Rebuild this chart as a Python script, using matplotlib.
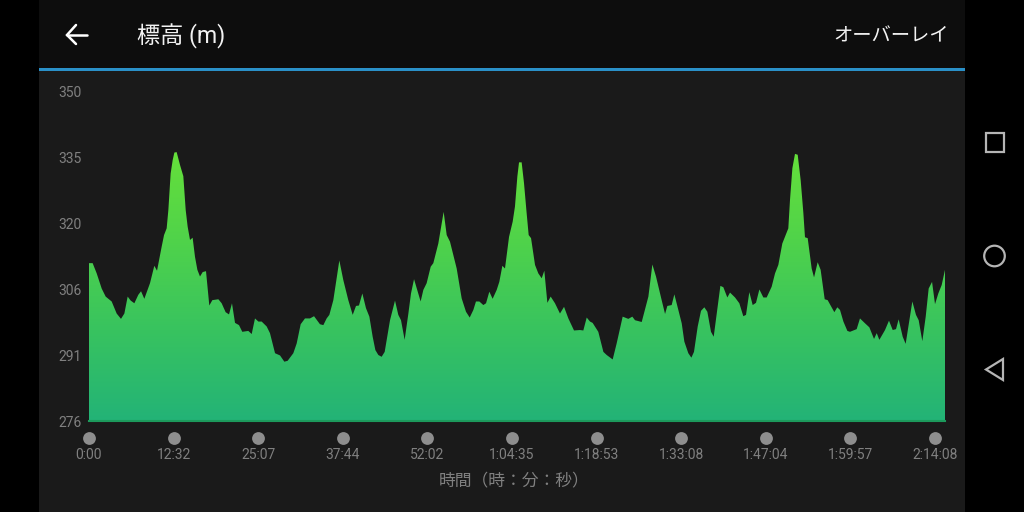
import numpy as np
import matplotlib
matplotlib.use("Agg")
import matplotlib.pyplot as plt
from matplotlib.colors import LinearSegmentedColormap
from matplotlib.patches import Rectangle, Circle, Polygon
from matplotlib.transforms import ScaledTranslation

plt.rcParams['font.family'] = ['Roboto', 'Noto Sans CJK JP', 'DejaVu Sans']

# position along the track, 1.0 = one labelled tick interval
track_pos = [
    0.000, 0.043, 0.091, 0.150, 0.197, 0.268, 0.327, 0.378, 0.418, 0.457, 0.493, 0.536, 0.583, 0.615, 0.654,
    0.721, 0.772, 0.804, 0.859, 0.887, 0.918, 0.938, 0.965, 0.989, 1.009, 1.036, 1.076, 1.115, 1.143, 1.166,
    1.194, 1.225, 1.253, 1.281, 1.312, 1.344, 1.383, 1.422, 1.458, 1.529, 1.568, 1.615, 1.655, 1.690, 1.726,
    1.773, 1.812, 1.883, 1.923, 1.962, 2.002, 2.041, 2.100, 2.139, 2.199, 2.258, 2.309, 2.348, 2.415, 2.455,
    2.502, 2.553, 2.612, 2.660, 2.730, 2.770, 2.809, 2.841, 2.888, 2.959, 3.006, 3.065, 3.117, 3.156, 3.191,
    3.231, 3.274, 3.314, 3.353, 3.385, 3.420, 3.459, 3.495, 3.558, 3.617, 3.656, 3.688, 3.731, 3.775, 3.806,
    3.842, 3.920, 3.952, 3.991, 4.039, 4.070, 4.129, 4.192, 4.228, 4.267, 4.346, 4.405, 4.456, 4.500, 4.543,
    4.574, 4.614, 4.661, 4.693, 4.732, 4.771, 4.819, 4.850, 4.886, 4.917, 4.965, 5.008, 5.035, 5.063, 5.083,
    5.114, 5.142, 5.173, 5.197, 5.225, 5.272, 5.311, 5.351, 5.382, 5.418, 5.457, 5.508, 5.567, 5.615, 5.666,
    5.733, 5.804, 5.843, 5.883, 5.922, 5.953, 6.020, 6.080, 6.119, 6.190, 6.237, 6.308, 6.375, 6.422, 6.454,
    6.533, 6.612, 6.659, 6.702, 6.769, 6.809, 6.836, 6.887, 6.919, 6.966, 7.006, 7.037, 7.084, 7.120, 7.151,
    7.195, 7.234, 7.273, 7.309, 7.352, 7.384, 7.463, 7.498, 7.545, 7.577, 7.636, 7.687, 7.734, 7.766, 7.805,
    7.845, 7.884, 7.924, 7.971, 8.010, 8.069, 8.109, 8.148, 8.195, 8.266, 8.286, 8.314, 8.345, 8.377, 8.412,
    8.444, 8.463, 8.495, 8.542, 8.570, 8.613, 8.648, 8.696, 8.731, 8.810, 8.845, 8.877, 8.917, 8.964, 8.995,
    9.074, 9.113, 9.173, 9.224, 9.279, 9.311, 9.342, 9.409, 9.456, 9.500, 9.539, 9.570, 9.618, 9.653, 9.697,
    9.732, 9.775, 9.807, 9.850, 9.890, 9.925, 9.965, 10.000, 10.039, 10.079, 10.118,
]
elevation = [
    311.4, 311.4, 309.1, 305.7, 303.9, 302.8, 300.1, 298.9, 300.1, 303.9, 303.0, 302.4, 304.3, 305.1, 303.4,
    306.9, 310.8, 309.7, 315.1, 317.7, 319.2, 323.3, 331.5, 334.5, 336.2, 336.3, 333.4, 330.9, 323.3, 319.6,
    316.6, 317.1, 312.8, 309.9, 308.4, 309.4, 309.6, 301.9, 303.1, 303.3, 302.4, 300.4, 299.9, 302.4, 298.0,
    297.5, 296.0, 296.2, 295.5, 299.0, 298.3, 298.3, 297.2, 295.7, 291.2, 290.7, 289.3, 289.5, 291.2, 293.4,
    297.7, 299.0, 299.0, 299.5, 297.7, 297.5, 299.0, 299.8, 303.1, 312.0, 307.6, 303.1, 299.8, 301.8, 301.9,
    304.6, 301.3, 299.4, 294.9, 291.9, 290.8, 290.4, 291.5, 298.6, 303.0, 299.8, 298.6, 294.2, 300.1, 304.6,
    307.8, 302.8, 305.4, 306.9, 310.6, 311.4, 315.8, 322.9, 317.7, 316.2, 310.2, 303.5, 300.5, 299.2, 300.9,
    302.8, 302.8, 302.0, 302.4, 305.0, 303.4, 305.4, 307.2, 310.8, 310.2, 317.3, 320.7, 324.1, 330.8, 334.0,
    334.0, 329.3, 322.6, 317.7, 317.0, 311.0, 309.1, 308.0, 309.7, 302.5, 303.9, 302.4, 300.1, 301.6, 299.0,
    296.3, 296.4, 296.3, 299.2, 298.3, 298.0, 296.0, 291.5, 290.8, 289.8, 293.4, 299.4, 298.9, 299.4, 298.6,
    298.2, 303.9, 311.1, 308.4, 303.1, 300.0, 301.8, 302.0, 304.4, 300.9, 297.9, 293.8, 291.2, 290.2, 291.5,
    297.2, 300.7, 301.5, 300.5, 296.0, 294.9, 306.3, 306.0, 303.7, 304.8, 303.7, 302.4, 299.5, 299.8, 304.9,
    302.0, 302.5, 305.5, 303.7, 303.7, 306.1, 309.1, 311.0, 315.8, 319.2, 325.6, 332.7, 335.9, 335.7, 330.0,
    322.6, 317.2, 317.0, 310.2, 308.2, 311.6, 309.9, 303.3, 303.1, 300.4, 301.5, 300.9, 298.3, 296.2, 296.0,
    296.6, 299.0, 297.9, 297.0, 294.4, 295.7, 294.2, 296.4, 298.5, 296.4, 296.6, 298.8, 294.9, 293.3, 298.6,
    302.8, 299.8, 298.6, 293.9, 299.4, 305.7, 307.2, 302.2, 304.6, 306.5, 309.9,
]
time_labels = ["0:00", "12:32", "25:07", "37:44", "52:02", "1:04:35", "1:18:53",
               "1:33:08", "1:47:04", "1:59:57", "2:14:08"]
y_ticks = [276, 290.8, 305.6, 320.4, 335.2, 350]
y_labels = ["276", "291", "306", "320", "335", "350"]

W, H = 1024, 512
fig = plt.figure(figsize=(W / 100, H / 100), dpi=100, facecolor="black")

# phone screen around the chart, in pixel coordinates
ui = fig.add_axes([0, 0, 1, 1], zorder=0)
ui.set_xlim(0, W)
ui.set_ylim(H, 0)
ui.axis("off")
ui.add_patch(Rectangle((39, 0), 926, H, fc="#1a1a1a", ec="none"))
ui.add_patch(Rectangle((39, 0), 926, 68, fc="#0d0d0d", ec="none"))
ui.add_patch(Rectangle((39, 68), 926, 3, fc="#2a90c8", ec="none"))

# back arrow
ui.plot([67, 87], [35, 35], color="white", lw=1.8, solid_capstyle="round")
ui.plot([76, 67, 76], [25, 35, 44], color="white", lw=1.8, solid_capstyle="round", solid_joinstyle="miter")
ui.text(137, 36, "標高 (m)", color="#f2f2f2", fontsize=16.7, va="center", ha="left")
ui.text(949, 36, "オーバーレイ", color="#f2f2f2", fontsize=13.9, va="center", ha="right",
        family=['Noto Sans CJK JP', 'DejaVu Sans'])

# nav buttons
ui.add_patch(Rectangle((985.5, 132.5), 18.5, 19, fc="none", ec="#b5b5b5", lw=1.6))
ui.add_patch(Circle((994.5, 256), 10.3, fc="none", ec="#b5b5b5", lw=1.6))
ui.add_patch(Polygon([[1003, 359], [1003, 380], [986, 369.5]], closed=True, fc="none", ec="#b5b5b5", lw=1.6))

ui.text(514, 481, "時間（時：分：秒）", color="#808080", fontsize=12.1, va="center", ha="center",
        family=['Noto Sans CJK JP', 'DejaVu Sans'])

# chart area
ax = fig.add_axes([89 / W, 1 - 421 / H, (945 - 89) / W, (421 - 91) / H], zorder=1)
ax.patch.set_alpha(0)
for spine in ax.spines.values():
    spine.set_visible(False)

cmap = LinearSegmentedColormap.from_list("elev", ["#23b377", "#38c35f", "#50d34a", "#66e03a"])
gradient = np.linspace(0, 1, 256).reshape(-1, 1)
img = ax.imshow(gradient, origin="lower", aspect="auto", cmap=cmap,
                extent=(0, track_pos[-1], 276, 337), zorder=2)
ax.set_xlim(0, track_pos[-1])
ax.set_ylim(276, 350)
clip = Polygon(np.column_stack([[0] + track_pos + [track_pos[-1]], [276] + elevation + [276]]),
               closed=True, transform=ax.transData, fc="none", ec="none")
ax.add_patch(clip)
img.set_clip_path(clip)

ax.plot([0, track_pos[-1]], [276, 276], color="#1c9a5c", lw=1.5, zorder=3, clip_on=False)

# time markers under the axis
ax.scatter(range(len(time_labels)), [272.2] * len(time_labels), s=85, color="#8e8e8e",
           linewidths=0, clip_on=False, zorder=3)

ax.set_xticks(range(len(time_labels)))
ax.set_xticklabels(time_labels, color="#808080", fontsize=10)
ax.set_yticks(y_ticks)
ax.set_yticklabels(y_labels, color="#808080", fontsize=10, ha="left")
ax.tick_params(axis="x", length=0, pad=19.5)
ax.tick_params(axis="y", length=0, pad=22.3)

# labels sit a little lower than matplotlib centres them
shift = ScaledTranslation(0, -0.4 / 100, fig.dpi_scale_trans)
for lab in ax.get_yticklabels():
    lab.set_transform(lab.get_transform() + shift)

fig.savefig("out.png", dpi=100, facecolor=fig.get_facecolor())
